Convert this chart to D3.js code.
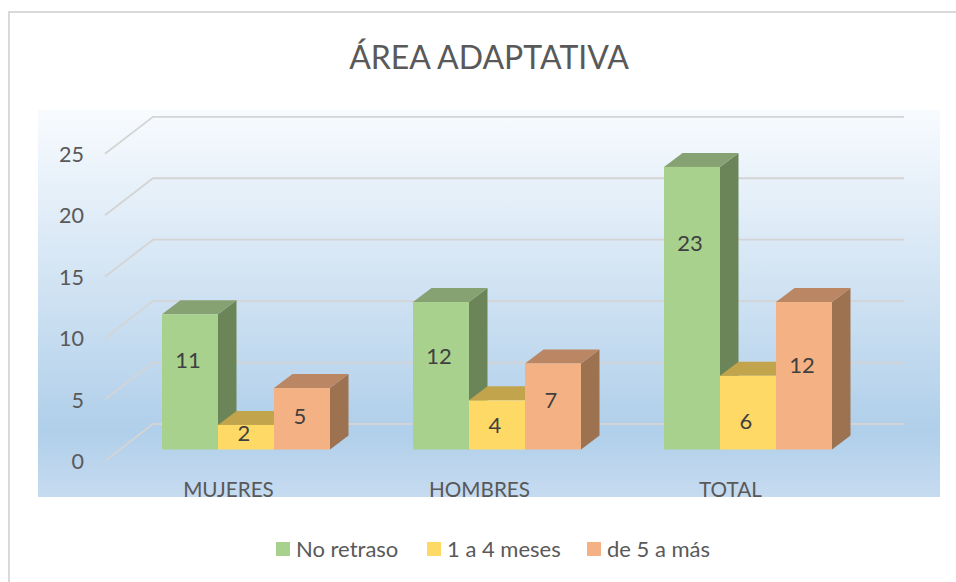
<!DOCTYPE html>
<html>
<head>
<meta charset="utf-8">
<script src="https://cdnjs.cloudflare.com/ajax/libs/d3/7.8.5/d3.min.js"></script>
<style>
    html, body { margin: 0; padding: 0; background: #fff; }
    svg { display: block; font-family: Lato, "Open Sans", sans-serif; }
</style>
</head>
<body>
<div id="chart"></div>
<script>
const categories = ["MUJERES", "HOMBRES", "TOTAL"];
const seriesNames = ["No retraso", "1 a 4 meses", "de 5 a más"];
const noRetraso = [11, 12, 23];
const unoACuatro = [2, 4, 6];
const deCincoAMas = [5, 7, 12];
const yTicks = [0, 5, 10, 15, 20, 25];

// height on the value axis where each data label sits in the picture
const noRetrasoLabelAt = [7.3, 7.6, 16.8];
const unoACuatroLabelAt = [1.35, 2, 2.3];
const deCincoAMasLabelAt = [2.7, 4, 6.9];

const seriesValues = [noRetraso, unoACuatro, deCincoAMas];
const seriesLabelAt = [noRetrasoLabelAt, unoACuatroLabelAt, deCincoAMasLabelAt];
const frontColors = ["#a9d18e", "#ffd966", "#f4b183"];
const topColors = ["#87a272", "#c1a44c", "#bb8663"];
const sideColors = ["#6b8559", "#c1a44c", "#9c7251"];

const width = 956, height = 582;

const svg = d3.select("#chart").append("svg")
    .attr("width", width)
    .attr("height", height);

// background gradient of the plot area
const grad = svg.append("defs").append("linearGradient")
    .attr("id", "plot-bg")
    .attr("x1", 0).attr("y1", 0).attr("x2", 0).attr("y2", 1);
grad.append("stop").attr("offset", "0%").attr("stop-color", "#f8fbfe");
grad.append("stop").attr("offset", "83%").attr("stop-color", "#b0cfea");
grad.append("stop").attr("offset", "100%").attr("stop-color", "#c6dbf0");

// chart frame, the right and bottom edges are cut off in the original
svg.append("path")
    .attr("d", "M9,582V12H956")
    .attr("fill", "none")
    .attr("stroke", "#d9d9d9")
    .attr("stroke-width", 2);

svg.append("rect")
    .attr("x", 38).attr("y", 110)
    .attr("width", 902).attr("height", 387)
    .attr("fill", "url(#plot-bg)");

svg.append("text")
    .attr("x", 489).attr("y", 69)
    .attr("text-anchor", "middle")
    .attr("font-size", 32)
    .attr("fill", "#595959")
    .text("ÁREA ADAPTATIVA");

// scales sit on the front plane of the 3d box
const x = d3.scaleBand().domain(categories).range([105, 858]);
const y = d3.scaleLinear().domain([0, 25]).range([461, 153.8]);
const series = d3.scaleBand().domain(seriesNames).range([0, 168]);

// depth of the walls and offset/depth of the bars
const wallDx = 48, wallDy = 37, gridRight = 904;
const barDx = 15.5, barDy = 11.5;
const depthDx = 18.5, depthDy = 14;

// gridlines
svg.append("g").selectAll("path")
    .data(yTicks)
    .join("path")
    .attr("d", d => `M${x.range()[0]},${y(d)}L${x.range()[0] + wallDx},${y(d) - wallDy}H${gridRight}`)
    .attr("fill", "none")
    .attr("stroke", "#d4d4d4")
    .attr("stroke-width", 1.8);

// y tick labels
svg.append("g").selectAll("text")
    .data(yTicks)
    .join("text")
    .attr("x", 84).attr("y", d => y(d) + 8)
    .attr("text-anchor", "end")
    .attr("font-size", 21.5)
    .attr("fill", "#595959")
    .text(d => d);

// bars, back to front so the neighbours overlap like the original
const groups = svg.append("g").selectAll("g")
    .data(categories)
    .join("g")
    .attr("transform", c => `translate(${x(c) + (x.bandwidth() - series.range()[1]) / 2 + barDx},${-barDy})`);

groups.each(function (c, ci) {
    const g = d3.select(this);
    seriesNames.forEach((s, si) => {
        const v = seriesValues[si][ci];
        const x0 = series(s), x1 = x0 + series.bandwidth();
        const yTop = y(v), yBase = y(0);

        g.append("path") // side
            .attr("d", `M${x1},${yTop}l${depthDx},${-depthDy}V${yBase - depthDy}L${x1},${yBase}Z`)
            .attr("fill", sideColors[si]);
        g.append("path") // top
            .attr("d", `M${x0},${yTop}l${depthDx},${-depthDy}H${x1 + depthDx}L${x1},${yTop}Z`)
            .attr("fill", topColors[si]);
    });
    seriesNames.forEach((s, si) => {
        const v = seriesValues[si][ci];
        g.append("rect")
            .attr("x", series(s))
            .attr("y", y(v))
            .attr("width", series.bandwidth())
            .attr("height", y(0) - y(v))
            .attr("fill", frontColors[si]);
        g.append("text")
            .attr("x", series(s) + series.bandwidth() / 2 - 2)
            .attr("y", y(seriesLabelAt[si][ci]) + 8)
            .attr("text-anchor", "middle")
            .attr("font-size", 22)
            .attr("fill", "#404040")
            .text(v);
    });
});

// category labels
svg.append("g").selectAll("text")
    .data(categories)
    .join("text")
    .attr("x", c => x(c) + x.bandwidth() / 2 - 2)
    .attr("y", 497)
    .attr("text-anchor", "middle")
    .attr("font-size", 20.7)
    .attr("fill", "#595959")
    .text(c => c);

// legend
const legendX = [276, 427, 587];
const legend = svg.append("g").selectAll("g")
    .data(seriesNames)
    .join("g")
    .attr("transform", (d, i) => `translate(${legendX[i]},542)`);
legend.append("rect")
    .attr("width", 14).attr("height", 14)
    .attr("fill", (d, i) => frontColors[i]);
legend.append("text")
    .attr("x", 20).attr("y", 14.5)
    .attr("font-size", 22)
    .attr("fill", "#595959")
    .text(d => d);
</script>
</body>
</html>
